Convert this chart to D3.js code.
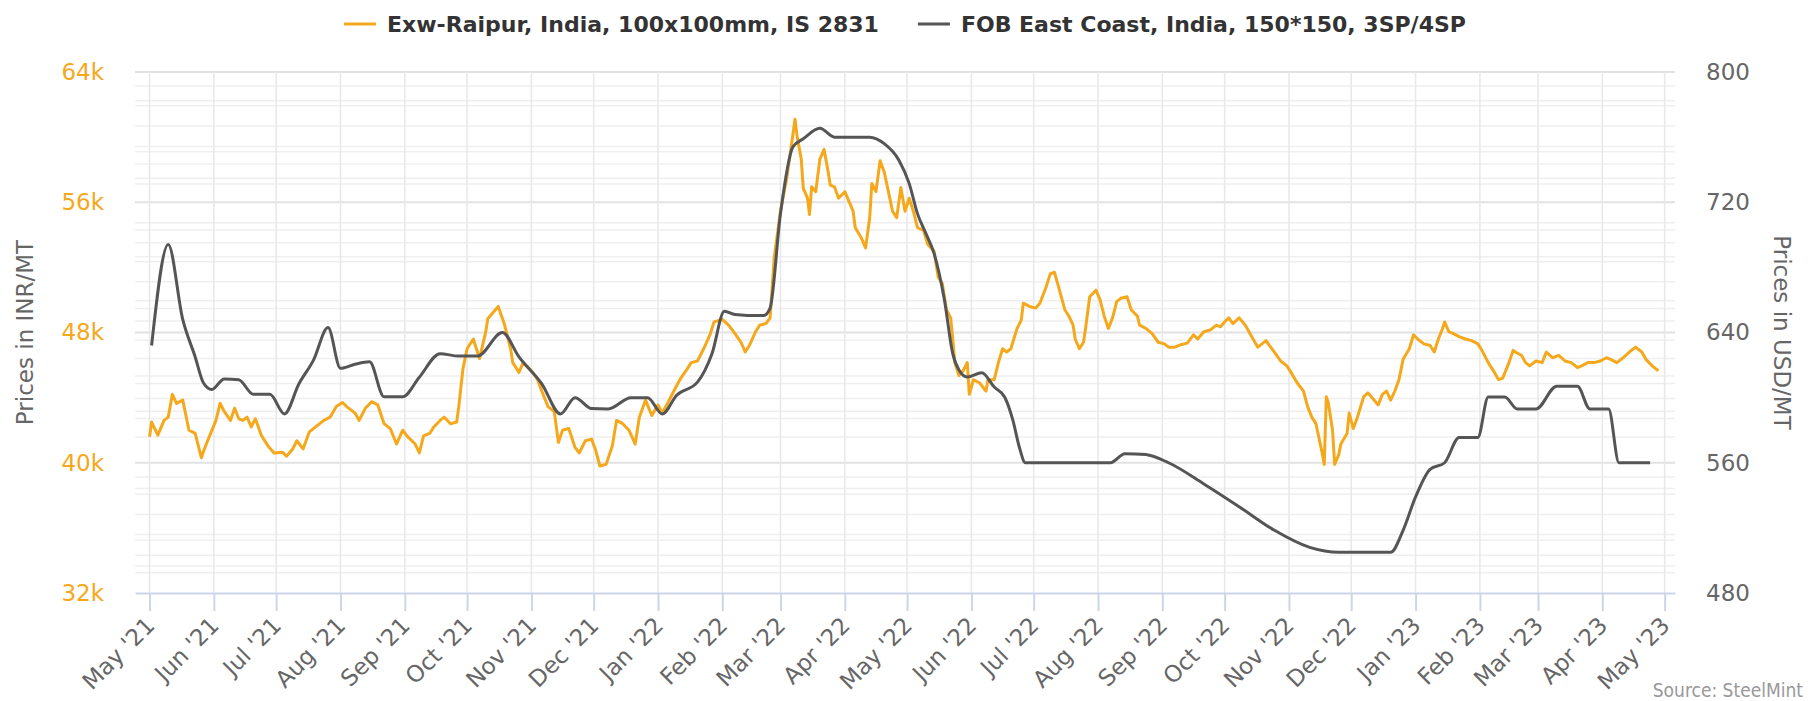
<!DOCTYPE html>
<html>
<head>
<meta charset="utf-8">
<script src="https://cdn.jsdelivr.net/npm/d3@7"></script>
<style>
  body { margin: 0; background: #fff; }
  svg { display: block; }
</style>
</head>
<body>
<svg width="1818" height="701"></svg>
<script>
// Exw-Raipur billet, INR/MT
const raipurSeries = [
  ['2021-05-01', 41600], ['2021-05-02', 42500], ['2021-05-05', 41700], ['2021-05-08', 42600],
  ['2021-05-10', 42800], ['2021-05-12', 44200], ['2021-05-14', 43650], ['2021-05-17', 43850],
  ['2021-05-20', 42000], ['2021-05-23', 41800], ['2021-05-26', 40300], ['2021-05-27', 40700],
  ['2021-05-29', 41350], ['2021-06-02', 42600], ['2021-06-04', 43650], ['2021-06-06', 43150],
  ['2021-06-09', 42600], ['2021-06-11', 43350], ['2021-06-13', 42700], ['2021-06-15', 42600],
  ['2021-06-17', 42800], ['2021-06-19', 42200], ['2021-06-21', 42700], ['2021-06-24', 41650],
  ['2021-06-27', 41050], ['2021-06-30', 40600], ['2021-07-04', 40650], ['2021-07-06', 40400],
  ['2021-07-09', 40850], ['2021-07-11', 41350], ['2021-07-14', 40850], ['2021-07-17', 41900],
  ['2021-07-22', 42400], ['2021-07-24', 42600], ['2021-07-27', 42800], ['2021-07-30', 43450],
  ['2021-08-02', 43700], ['2021-08-04', 43450], ['2021-08-08', 43050], ['2021-08-10', 42600],
  ['2021-08-13', 43350], ['2021-08-16', 43750], ['2021-08-19', 43550], ['2021-08-22', 42400],
  ['2021-08-25', 42100], ['2021-08-28', 41150], ['2021-08-31', 42000], ['2021-09-02', 41650],
  ['2021-09-06', 41150], ['2021-09-08', 40600], ['2021-09-10', 41650], ['2021-09-13', 41800],
  ['2021-09-15', 42200], ['2021-09-18', 42600], ['2021-09-20', 42800], ['2021-09-23', 42400],
  ['2021-09-26', 42500], ['2021-09-27', 43450], ['2021-09-29', 45750], ['2021-10-01', 47000],
  ['2021-10-04', 47600], ['2021-10-07', 46400], ['2021-10-10', 48050], ['2021-10-11', 48850],
  ['2021-10-16', 49600], ['2021-10-19', 48500], ['2021-10-22', 47000], ['2021-10-23', 46150],
  ['2021-10-26', 45550], ['2021-10-28', 46150], ['2021-11-01', 45650], ['2021-11-04', 45100],
  ['2021-11-06', 44400], ['2021-11-09', 43450], ['2021-11-12', 43150], ['2021-11-14', 41250],
  ['2021-11-16', 42000], ['2021-11-19', 42100], ['2021-11-22', 40950], ['2021-11-24', 40600],
  ['2021-11-27', 41350], ['2021-11-30', 41450], ['2021-12-02', 40750], ['2021-12-04', 39800],
  ['2021-12-07', 39900], ['2021-12-10', 41050], ['2021-12-12', 42600], ['2021-12-15', 42400],
  ['2021-12-18', 42000], ['2021-12-21', 41150], ['2021-12-23', 42800], ['2021-12-26', 43850],
  ['2021-12-29', 42900], ['2022-01-01', 43550], ['2022-01-03', 43050], ['2022-01-06', 43750],
  ['2022-01-09', 44500], ['2022-01-12', 45200], ['2022-01-15', 45750], ['2022-01-17', 46150],
  ['2022-01-20', 46250], ['2022-01-23', 47000], ['2022-01-26', 47850], ['2022-01-28', 48650],
  ['2022-02-01', 48800], ['2022-02-04', 48450], ['2022-02-07', 47950], ['2022-02-10', 47400],
  ['2022-02-12', 46800], ['2022-02-14', 47200], ['2022-02-17', 48050], ['2022-02-19', 48450],
  ['2022-02-22', 48550], ['2022-02-24', 48900], ['2022-02-26', 52600], ['2022-03-01', 55450],
  ['2022-03-04', 57450], ['2022-03-06', 59250], ['2022-03-08', 61100], ['2022-03-09', 60050],
  ['2022-03-11', 58650], ['2022-03-12', 56850], ['2022-03-14', 56250], ['2022-03-15', 55250],
  ['2022-03-16', 56950], ['2022-03-18', 56650], ['2022-03-20', 58650], ['2022-03-22', 59250],
  ['2022-03-24', 57850], ['2022-03-25', 57050], ['2022-03-27', 56950], ['2022-03-29', 56250],
  ['2022-04-01', 56650], ['2022-04-03', 56050], ['2022-04-05', 55450], ['2022-04-06', 54450],
  ['2022-04-09', 53800], ['2022-04-11', 53200], ['2022-04-13', 55050], ['2022-04-14', 57150],
  ['2022-04-16', 56650], ['2022-04-18', 58550], ['2022-04-20', 57850], ['2022-04-22', 56650],
  ['2022-04-24', 55450], ['2022-04-26', 55050], ['2022-04-28', 56900], ['2022-04-30', 55450],
  ['2022-05-02', 56250], ['2022-05-04', 55450], ['2022-05-06', 54450], ['2022-05-09', 54250],
  ['2022-05-11', 53400], ['2022-05-14', 53000], ['2022-05-16', 51400], ['2022-05-18', 51000],
  ['2022-05-20', 49400], ['2022-05-22', 48900], ['2022-05-23', 47600], ['2022-05-24', 46150],
  ['2022-05-26', 45350], ['2022-05-28', 45650], ['2022-05-30', 46150], ['2022-05-31', 44200],
  ['2022-06-02', 45100], ['2022-06-05', 44900], ['2022-06-08', 44400], ['2022-06-09', 45100],
  ['2022-06-12', 45100], ['2022-06-14', 46150], ['2022-06-16', 47000], ['2022-06-18', 46800],
  ['2022-06-20', 47000], ['2022-06-23', 48250], ['2022-06-25', 48750], ['2022-06-26', 49800],
  ['2022-06-29', 49600], ['2022-07-02', 49500], ['2022-07-04', 49800], ['2022-07-07', 50800],
  ['2022-07-09', 51600], ['2022-07-11', 51700], ['2022-07-13', 50800], ['2022-07-16', 49400],
  ['2022-07-18', 49000], ['2022-07-20', 48450], ['2022-07-21', 47600], ['2022-07-23', 47000],
  ['2022-07-25', 47400], ['2022-07-26', 48250], ['2022-07-28', 50200], ['2022-07-31', 50600],
  ['2022-08-02', 50000], ['2022-08-04', 49000], ['2022-08-06', 48250], ['2022-08-08', 48900],
  ['2022-08-10', 49900], ['2022-08-12', 50100], ['2022-08-15', 50200], ['2022-08-17', 49400],
  ['2022-08-20', 49000], ['2022-08-21', 48450], ['2022-08-24', 48250], ['2022-08-27', 47950],
  ['2022-08-30', 47400], ['2022-09-02', 47300], ['2022-09-04', 47100], ['2022-09-07', 47100],
  ['2022-09-10', 47250], ['2022-09-13', 47350], ['2022-09-16', 47850], ['2022-09-18', 47600],
  ['2022-09-21', 48050], ['2022-09-24', 48150], ['2022-09-27', 48450], ['2022-09-29', 48350],
  ['2022-10-01', 48650], ['2022-10-03', 48900], ['2022-10-05', 48550], ['2022-10-08', 48900],
  ['2022-10-11', 48450], ['2022-10-14', 47750], ['2022-10-17', 47100], ['2022-10-19', 47300],
  ['2022-10-21', 47500], ['2022-10-22', 47300], ['2022-10-25', 46800], ['2022-10-28', 46250],
  ['2022-10-31', 45950], ['2022-11-02', 45550], ['2022-11-05', 44900], ['2022-11-08', 44400],
  ['2022-11-10', 43450], ['2022-11-12', 42800], ['2022-11-14', 42400], ['2022-11-15', 41800],
  ['2022-11-17', 40600], ['2022-11-18', 39900], ['2022-11-19', 44050], ['2022-11-20', 43650],
  ['2022-11-22', 42000], ['2022-11-23', 39900], ['2022-11-25', 40500], ['2022-11-26', 41150],
  ['2022-11-29', 41800], ['2022-11-30', 43050], ['2022-12-02', 42100], ['2022-12-04', 42800],
  ['2022-12-07', 44050], ['2022-12-09', 44300], ['2022-12-12', 43850], ['2022-12-14', 43550],
  ['2022-12-16', 44200], ['2022-12-18', 44400], ['2022-12-20', 43850], ['2022-12-22', 44400],
  ['2022-12-24', 45100], ['2022-12-26', 46350], ['2022-12-29', 47000], ['2022-12-31', 47850],
  ['2023-01-02', 47600], ['2023-01-05', 47300], ['2023-01-08', 47200], ['2023-01-10', 46800],
  ['2023-01-12', 47600], ['2023-01-14', 48250], ['2023-01-15', 48650], ['2023-01-17', 48050],
  ['2023-01-19', 47950], ['2023-01-22', 47750], ['2023-01-25', 47600], ['2023-01-28', 47500],
  ['2023-01-31', 47300], ['2023-02-02', 46900], ['2023-02-05', 46150], ['2023-02-08', 45550],
  ['2023-02-10', 45100], ['2023-02-12', 45200], ['2023-02-15', 46150], ['2023-02-17', 46900],
  ['2023-02-18', 46800], ['2023-02-21', 46600], ['2023-02-23', 46150], ['2023-02-25', 45950],
  ['2023-02-28', 46250], ['2023-03-03', 46150], ['2023-03-05', 46800], ['2023-03-08', 46450],
  ['2023-03-11', 46600], ['2023-03-14', 46250], ['2023-03-17', 46150], ['2023-03-20', 45850],
  ['2023-03-22', 45950], ['2023-03-25', 46150], ['2023-03-28', 46150], ['2023-03-31', 46250],
  ['2023-04-03', 46450], ['2023-04-05', 46350], ['2023-04-08', 46150], ['2023-04-11', 46450],
  ['2023-04-14', 46800], ['2023-04-17', 47100], ['2023-04-20', 46800], ['2023-04-22', 46350],
  ['2023-04-25', 45950], ['2023-04-28', 45650]
];

// FOB East Coast billet, USD/MT
const fobSeries = [
  ['2021-05-02', 632], ['2021-05-10', 694], ['2021-05-17', 648], ['2021-05-23', 625],
  ['2021-05-27', 609], ['2021-05-31', 605], ['2021-06-06', 611.5], ['2021-06-13', 611],
  ['2021-06-20', 602], ['2021-06-28', 602], ['2021-07-05', 590], ['2021-07-12', 608.5],
  ['2021-07-19', 623], ['2021-07-26', 643], ['2021-08-01', 618], ['2021-08-08', 620.5],
  ['2021-08-15', 622], ['2021-08-22', 600.5], ['2021-08-31', 600.5], ['2021-09-08', 612.5],
  ['2021-09-18', 627], ['2021-09-27', 625.5], ['2021-10-06', 625.5], ['2021-10-18', 640],
  ['2021-10-26', 625], ['2021-11-06', 608.5], ['2021-11-15', 590], ['2021-11-22', 600],
  ['2021-11-30', 593.3], ['2021-12-08', 593], ['2021-12-19', 600], ['2021-12-27', 600],
  ['2022-01-03', 590], ['2022-01-10', 601.5], ['2022-01-20', 609.5], ['2022-01-27', 627],
  ['2022-02-02', 653], ['2022-02-07', 651], ['2022-02-13', 650.5], ['2022-02-21', 650.5],
  ['2022-02-24', 655], ['2022-03-01', 713], ['2022-03-07', 754], ['2022-03-12', 759],
  ['2022-03-20', 765.4], ['2022-03-27', 760], ['2022-04-13', 760], ['2022-04-20', 756],
  ['2022-04-27', 746], ['2022-05-02', 731.6], ['2022-05-06', 713], ['2022-05-10', 701],
  ['2022-05-14', 688.6], ['2022-05-19', 660], ['2022-05-23', 627], ['2022-05-26', 617],
  ['2022-05-30', 612.7], ['2022-06-06', 615.3], ['2022-06-12', 606.5], ['2022-06-17', 600.4],
  ['2022-06-21', 586], ['2022-06-24', 570], ['2022-06-27', 560], ['2022-08-07', 560],
  ['2022-08-14', 565.6], ['2022-08-24', 565], ['2022-09-04', 560], ['2022-09-21', 547],
  ['2022-10-08', 533], ['2022-10-25', 518.5], ['2022-11-11', 508], ['2022-11-25', 505],
  ['2022-12-20', 505], ['2022-12-26', 518.5], ['2023-01-01', 539], ['2023-01-08', 556],
  ['2023-01-15', 560], ['2023-01-22', 575.5], ['2023-01-31', 575.5], ['2023-02-05', 600.4],
  ['2023-02-13', 600.4], ['2023-02-19', 593], ['2023-02-28', 593], ['2023-03-10', 607],
  ['2023-03-20', 607], ['2023-03-26', 593], ['2023-04-04', 593], ['2023-04-09', 560],
  ['2023-04-24', 560]
];

const seriesNames = ['Exw-Raipur, India, 100x100mm, IS 2831', 'FOB East Coast, India, 150*150, 3SP/4SP'];
const seriesColors = ['#f5a81c', '#555555'];

const xExtent = ['2021-04-24', '2023-05-06'];
const monthTicks = d3.timeMonth.range(new Date(2021, 4, 1), new Date(2023, 4, 2));
const inrTicks = [32000, 40000, 48000, 56000, 64000];
const usdTicks = [480, 560, 640, 720, 800];
// faint extra grid lines, in INR
const minorGrid = [
  63140, 62236, 61929, 60681, 59421, 59101, 58345, 57467, 57116,
  54738, 54289, 53508, 52648, 52340, 51111, 49944, 49477, 48714,
  47529, 46403, 45334, 44867, 43945, 43165, 42716, 41585,
  39126, 38413, 38063, 36815, 35586, 35235, 34313, 33656, 33250
];

const svg = d3.select('svg');
const width = +svg.attr('width');
const height = +svg.attr('height');

const plotLeft = 135, plotRight = 1675, plotTop = 72, plotBottom = 593;
const font = "'DejaVu Sans', Verdana, sans-serif";
const parse = d3.timeParse('%Y-%m-%d');

const x = d3.scaleTime()
  .domain(xExtent.map(parse))
  .range([plotLeft, plotRight]);

const yInr = d3.scaleLinear()
  .domain([32000, 64000])
  .range([plotBottom, plotTop]);

const yUsd = d3.scaleLinear()
  .domain([480, 800])
  .range([plotBottom, plotTop]);

// grid
const grid = svg.append('g');

grid.selectAll('.minor')
  .data(minorGrid)
  .enter().append('line')
  .attr('x1', plotLeft)
  .attr('x2', plotRight)
  .attr('y1', d => yInr(d))
  .attr('y2', d => yInr(d))
  .attr('stroke', '#efefef')
  .attr('stroke-width', 1.5);

grid.selectAll('.major')
  .data(inrTicks.slice(1))
  .enter().append('line')
  .attr('x1', plotLeft)
  .attr('x2', plotRight)
  .attr('y1', d => yInr(d))
  .attr('y2', d => yInr(d))
  .attr('stroke', '#e2e2e2')
  .attr('stroke-width', 2);

grid.selectAll('.vert')
  .data(monthTicks)
  .enter().append('line')
  .attr('x1', d => x(d))
  .attr('x2', d => x(d))
  .attr('y1', plotTop)
  .attr('y2', plotBottom)
  .attr('stroke', '#e8e8e8')
  .attr('stroke-width', 1.5);

// x axis
const xAxis = svg.append('g')
  .attr('transform', `translate(0, ${plotBottom})`)
  .call(d3.axisBottom(x)
    .tickValues(monthTicks)
    .tickSize(18)
    .tickSizeOuter(0)
    .tickFormat(d3.timeFormat("%b '%y")));

xAxis.select('.domain')
  .attr('stroke', '#ccd6eb')
  .attr('stroke-width', 2);

xAxis.selectAll('.tick line')
  .attr('stroke', '#ccd6eb')
  .attr('stroke-width', 2);

xAxis.selectAll('.tick text')
  .attr('x', 0)
  .attr('y', 0)
  .attr('dy', 0)
  .attr('text-anchor', 'end')
  .attr('transform', 'translate(6, 34) rotate(-45)')
  .attr('fill', '#666')
  .style('font', `23px ${font}`);

// left axis
const leftAxis = svg.append('g')
  .attr('transform', `translate(${plotLeft}, 0)`)
  .call(d3.axisLeft(yInr)
    .tickValues(inrTicks)
    .tickSize(0)
    .tickPadding(31)
    .tickFormat(d => d / 1000 + 'k'));

leftAxis.select('.domain').remove();
leftAxis.selectAll('text')
  .attr('fill', seriesColors[0])
  .style('font', `23px ${font}`);

// right axis
const rightAxis = svg.append('g')
  .attr('transform', `translate(${plotRight}, 0)`)
  .call(d3.axisRight(yUsd)
    .tickValues(usdTicks)
    .tickSize(0)
    .tickPadding(31));

rightAxis.select('.domain').remove();
rightAxis.selectAll('text')
  .attr('fill', '#666')
  .style('font', `23px ${font}`);

// axis titles
svg.append('text')
  .attr('transform', `translate(33, ${(plotTop + plotBottom) / 2}) rotate(-90)`)
  .attr('text-anchor', 'middle')
  .attr('fill', '#666')
  .style('font', `23px ${font}`)
  .text('Prices in INR/MT');

svg.append('text')
  .attr('transform', `translate(1774, ${(plotTop + plotBottom) / 2}) rotate(90)`)
  .attr('text-anchor', 'middle')
  .attr('fill', '#666')
  .style('font', `23px ${font}`)
  .text('Prices in USD/MT');

// lines
const inrLine = d3.line()
  .x(d => x(parse(d[0])))
  .y(d => yInr(d[1]));

const usdLine = d3.line()
  .curve(d3.curveMonotoneX)
  .x(d => x(parse(d[0])))
  .y(d => yUsd(d[1]));

svg.append('path')
  .datum(raipurSeries)
  .attr('d', inrLine)
  .attr('fill', 'none')
  .attr('stroke', seriesColors[0])
  .attr('stroke-width', 3)
  .attr('stroke-linejoin', 'round');

svg.append('path')
  .datum(fobSeries)
  .attr('d', usdLine)
  .attr('fill', 'none')
  .attr('stroke', seriesColors[1])
  .attr('stroke-width', 3)
  .attr('stroke-linejoin', 'round');

// legend
const legend = svg.append('g');
let cursor = 0;
seriesNames.forEach((name, i) => {
  const item = legend.append('g').attr('transform', `translate(${cursor}, 0)`);
  item.append('line')
    .attr('x1', 0).attr('x2', 32)
    .attr('y1', 24).attr('y2', 24)
    .attr('stroke', seriesColors[i])
    .attr('stroke-width', 3);
  const label = item.append('text')
    .attr('x', 43)
    .attr('y', 32)
    .attr('fill', '#333')
    .style('font', `bold 22px ${font}`)
    .text(name);
  cursor += 43 + label.node().getComputedTextLength() + 39;
});
const legendWidth = cursor - 39;
legend.attr('transform', `translate(${905 - legendWidth / 2}, 0)`);

// credit
svg.append('text')
  .attr('x', 1803)
  .attr('y', 697)
  .attr('text-anchor', 'end')
  .attr('fill', '#999')
  .style('font', "19px 'DejaVu Sans Condensed', 'DejaVu Sans', sans-serif")
  .text('Source: SteelMint');
</script>
</body>
</html>
